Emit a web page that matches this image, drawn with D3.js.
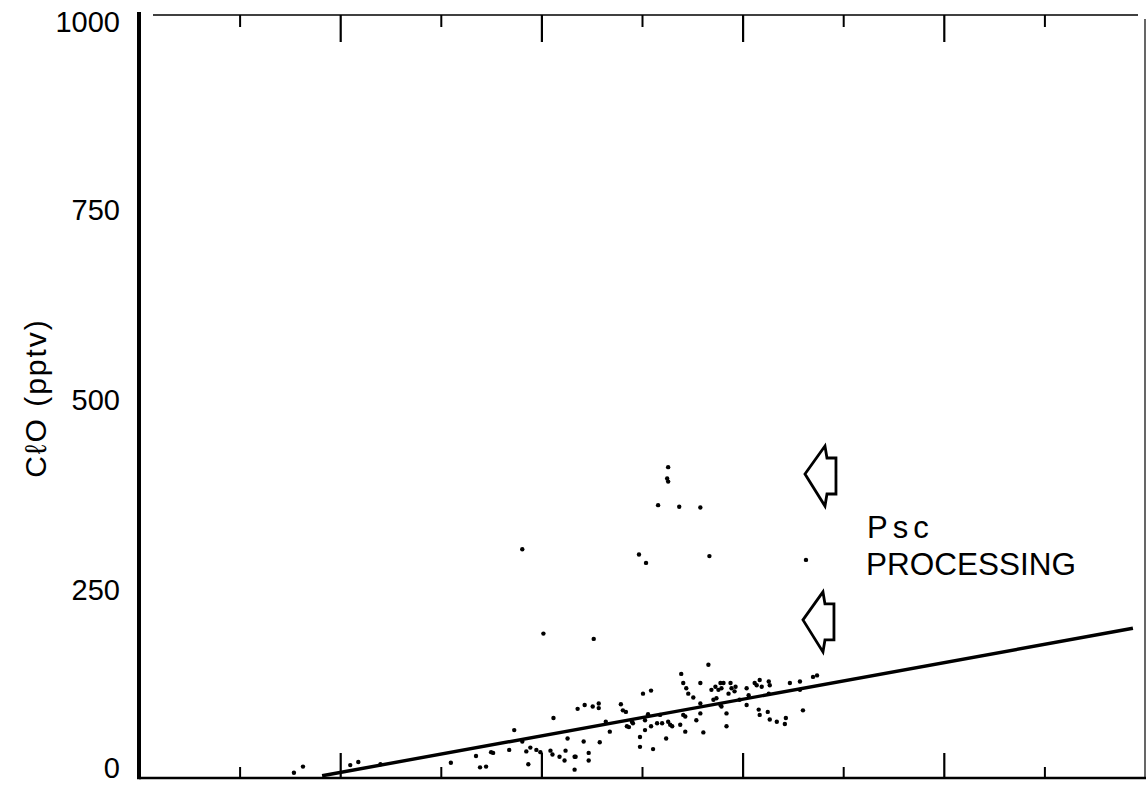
<!DOCTYPE html>
<html>
<head>
<meta charset="utf-8">
<script src="https://cdn.jsdelivr.net/npm/d3@7"></script>
<style>
  body { margin: 0; background: #fff; }
  svg { display: block; font-family: "Liberation Sans", Arial, sans-serif; }
</style>
</head>
<body>
<svg id="chart"></svg>
<script>
// scatter points (x in tick units, ClO in pptv)
var ptX = [1.54, 1.63, 2.10, 2.18, 2.40, 3.10, 3.35, 3.39, 3.45, 3.50, 3.52, 3.68, 3.73, 3.81, 3.87, 3.85,
  3.89, 3.95, 3.99, 4.09, 4.11, 4.12, 4.18, 4.24, 4.23, 4.26, 4.33, 4.34, 4.33, 4.36, 4.42, 4.43,
  4.47, 4.47, 4.51, 4.57, 4.57, 4.58, 4.64, 4.68, 4.79, 4.81, 4.84, 4.85, 4.87, 4.90, 4.91, 4.98,
  4.98, 5.01, 5.09, 5.03, 5.06, 5.03, 5.09, 5.11, 5.15, 5.66, 5.39, 5.41, 5.44, 5.46, 5.58, 5.51,
  5.58, 5.69, 5.73, 5.78, 5.81, 5.76, 5.79, 5.71, 5.74, 5.78, 5.79, 5.88, 5.89, 5.86, 5.93, 5.92,
  5.97, 6.04, 6.06, 6.04, 6.12, 6.14, 6.17, 6.19, 6.26, 6.27, 6.26, 6.16, 6.17, 6.25, 6.27, 6.34,
  6.43, 6.42, 6.47, 6.57, 6.57, 6.60, 6.70, 6.74, 5.18, 5.20, 5.26, 5.28, 5.30, 5.38, 5.41, 5.43,
  5.43, 5.54, 5.58, 5.61, 5.84, 5.84, 5.24, 3.81, 5.26, 5.25, 5.26, 5.16, 5.37, 5.58, 4.97, 5.04,
  5.67, 6.63, 4.02, 4.52];
var ptY = [7, 15, 17, 21, 18, 20, 29, 14, 15, 34, 33, 37, 63, 48, 18, 35,
  40, 37, 34, 36, 31, 79, 28, 36, 23, 52, 28, 28, 11, 91, 48, 96,
  33, 23, 94, 98, 92, 47, 74, 61, 97, 89, 87, 68, 67, 74, 72, 54,
  41, 111, 115, 76, 84, 63, 68, 38, 72, 149, 137, 125, 118, 111, 125, 106,
  98, 116, 120, 125, 125, 116, 118, 103, 105, 96, 94, 125, 118, 111, 120, 114,
  103, 118, 109, 96, 125, 122, 129, 120, 127, 122, 111, 90, 83, 87, 77, 74,
  79, 71, 125, 127, 116, 89, 133, 135, 83, 72, 74, 70, 68, 70, 83, 81,
  61, 76, 85, 60, 85, 68, 52, 301, 409, 394, 390, 359, 357, 356, 294, 283,
  292, 287, 190, 183];

// fitted line end points
var fitX = [1.82, 9.88];
var fitY = [3, 197];

var yTicks = [0, 250, 500, 750, 1000];
var shortTicks = [1, 3, 5, 7, 9];
var longTicks = [2, 4, 6, 8];

// arrows marking the Psc processing band (tip position)
var arrowX = [6.62, 6.60];
var arrowY = [400, 208];

var width = 1146, height = 785;

var x = d3.scaleLinear().domain([0, 10]).range([139, 1145]);
var y = d3.scaleLinear().domain([0, 1000]).range([778, 18]);

var svg = d3.select("#chart")
  .attr("width", width)
  .attr("height", height);

// frame: top and right thin lines
svg.append("line")
  .attr("x1", 153).attr("x2", x(10) - 7)
  .attr("y1", 15).attr("y2", 15)
  .attr("stroke", "#000").attr("stroke-width", 1.6);
svg.append("line")
  .attr("x1", x(10)).attr("x2", x(10))
  .attr("y1", 19).attr("y2", y(0))
  .attr("stroke", "#000").attr("stroke-width", 1.2);

// top ticks (pointing down)
svg.append("g")
  .attr("transform", "translate(0,15)")
  .call(d3.axisTop(x).tickValues(shortTicks).tickSize(-12).tickFormat(""))
  .call(function (g) { g.select(".domain").remove(); })
  .selectAll("line").attr("stroke-width", 2);
svg.append("g")
  .attr("transform", "translate(0,15)")
  .call(d3.axisTop(x).tickValues(longTicks).tickSize(-27).tickFormat(""))
  .call(function (g) { g.select(".domain").remove(); })
  .selectAll("line").attr("stroke-width", 2.2);

// bottom ticks (pointing up)
svg.append("g")
  .attr("transform", "translate(0," + y(0) + ")")
  .call(d3.axisBottom(x).tickValues(shortTicks).tickSize(-11).tickFormat(""))
  .call(function (g) { g.select(".domain").remove(); })
  .selectAll("line").attr("stroke-width", 2);
svg.append("g")
  .attr("transform", "translate(0," + y(0) + ")")
  .call(d3.axisBottom(x).tickValues(longTicks).tickSize(-25).tickFormat(""))
  .call(function (g) { g.select(".domain").remove(); })
  .selectAll("line").attr("stroke-width", 2.2);

// bottom axis line
svg.append("line")
  .attr("x1", x(0)).attr("x2", width)
  .attr("y1", y(0)).attr("y2", y(0))
  .attr("stroke", "#000").attr("stroke-width", 2.6);

// y axis
var yAxis = svg.append("g")
  .attr("transform", "translate(" + x(0) + ",0)")
  .call(d3.axisLeft(y).tickValues(yTicks).tickSize(0).tickPadding(19).tickFormat(d3.format("d")));
yAxis.select(".domain").remove();
yAxis.selectAll("text")
  .attr("font-size", 29)
  .attr("font-family", "'Liberation Sans', Arial, sans-serif")
  .attr("fill", "#000")
  .attr("dy", function (d) { return d === 0 ? "-0.03em" : (d === 1000 ? "0.45em" : "0.38em"); });

svg.append("line")
  .attr("x1", x(0)).attr("x2", x(0))
  .attr("y1", 12).attr("y2", y(0) + 1.3)
  .attr("stroke", "#000").attr("stroke-width", 4);

// y axis title
svg.append("text")
  .attr("transform", "translate(46," + 398 + ") rotate(-90)")
  .attr("text-anchor", "middle")
  .attr("font-size", 30)
  .attr("letter-spacing", 2)
  .attr("fill", "#000")
  .text("C\u2113O (pptv)");

// fit line
svg.append("line")
  .attr("x1", x(fitX[0])).attr("y1", y(fitY[0]))
  .attr("x2", x(fitX[1])).attr("y2", y(fitY[1]))
  .attr("stroke", "#000").attr("stroke-width", 3.4);

// points
svg.selectAll(".pt")
  .data(ptX)
  .enter().append("circle")
  .attr("class", "pt")
  .attr("cx", function (d) { return x(d); })
  .attr("cy", function (d, i) { return y(ptY[i]); })
  .attr("r", 2.2)
  .attr("fill", "#000");

// block arrows pointing left
var arrowShape = "M0,0 L20,-28 L22,-16 L31,-16 L31,20 L22,20 L20,32 Z";
svg.selectAll(".arrow")
  .data(arrowX)
  .enter().append("path")
  .attr("class", "arrow")
  .attr("transform", function (d, i) { return "translate(" + x(d) + "," + y(arrowY[i]) + ")"; })
  .attr("d", arrowShape)
  .attr("fill", "none")
  .attr("stroke", "#000")
  .attr("stroke-width", 2.8)
  .attr("stroke-linejoin", "miter");

// annotation text
svg.append("text")
  .attr("x", 867).attr("y", 538)
  .attr("font-size", 31)
  .attr("letter-spacing", 5)
  .attr("fill", "#000")
  .text("Psc");
svg.append("text")
  .attr("x", 866).attr("y", 575)
  .attr("font-size", 31.5)
  .attr("fill", "#000")
  .text("PROCESSING");
</script>
</body>
</html>
